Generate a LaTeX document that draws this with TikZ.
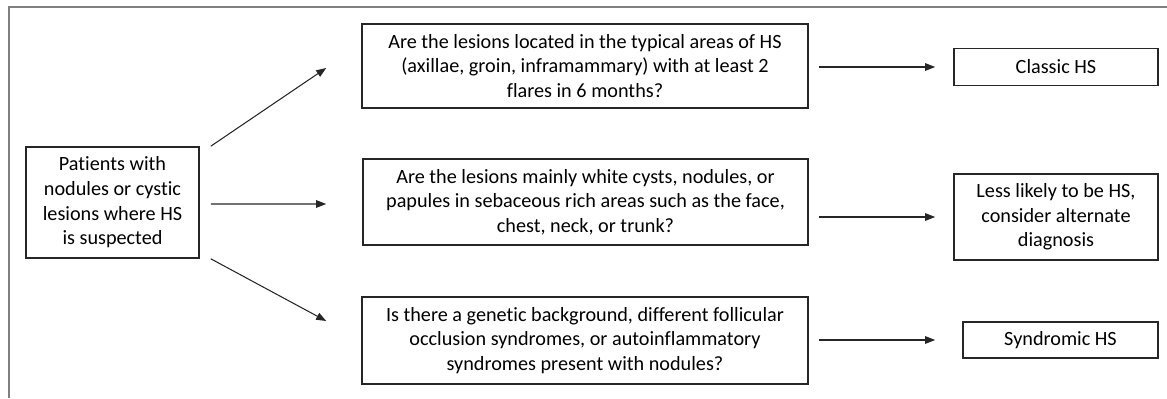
\documentclass[tikz,border=0pt]{standalone}
\usepackage{fontspec}
\setmainfont{Carlito}[Ligatures=NoCommon]
\usepackage{tikz}
\usetikzlibrary{calc, arrows.meta, positioning}

\begin{document}
\begin{tikzpicture}[font=\fontsize{11.5}{14}\selectfont,
    box/.style={draw=black!85, line width=0.9pt, align=center, inner sep=0pt},
    arr/.style={-{Triangle[length=2mm, width=1.5mm]}, line width=0.6pt, black!85}]
        \useasboundingbox (0,0) rectangle (23.34,7.96);
        % frame round the chart
        \draw[gray, line width=0.8pt] (0.18,0) -- (0.18,7.82) -- (23.34,7.82);

        \node[box, minimum width=3.46cm, minimum height=2.22cm] (start) at (2.25,3.91)
          {Patients with\\nodules or cystic\\lesions where HS\\is suspected};

        % the three questions
        \node[box, minimum width=8.92cm, minimum height=1.68cm] (q1) at (11.7,6.64)
          {Are the lesions located in the typical areas of HS\\(axillae, groin, inframammary) with at least 2\\flares in 6 months?};
        \node[box, minimum width=8.9cm, minimum height=1.72cm] (q2) at (11.71,3.92)
          {Are the lesions mainly white cysts, nodules, or\\papules in sebaceous rich areas such as the face,\\chest, neck, or trunk?};
        \node[box, minimum width=8.92cm, minimum height=1.74cm] (q3) at (11.7,1.15)
          {Is there a genetic background, different follicular\\occlusion syndromes, or autoinflammatory\\syndromes present with nodules?};

        % outcomes
        \node[box, minimum width=4.08cm, minimum height=0.74cm] (r1) at (21.12,6.62) {Classic HS};
        \node[box, minimum width=4.08cm, minimum height=1.72cm] (r2) at (21.12,3.62)
          {Less likely to be HS,\\consider alternate\\diagnosis};
        \node[box, minimum width=3.9cm, minimum height=0.72cm] (r3) at (21.21,1.16) {Syndromic HS};

        \draw[arr] ($(start.north east)+(0.22,0)$) -- ($(q1.west)+(-0.7,-0.04)$);
        \draw[arr] ($(start.east)+(0.22,-0.03)$) -- ($(q2.west)+(-0.72,-0.04)$);
        \draw[arr] ($(start.south east)+(0.22,0)$) -- ($(q3.west)+(-0.7,0.39)$);

        \draw[arr] ($(q1.east |- r1.west)+(0.2,0)$) -- ($(r1.west)+(-0.36,0)$);
        \draw[arr] ($(q2.east |- r2.west)+(0.2,0)$) -- ($(r2.west)+(-0.36,0)$);
        \draw[arr] ($(q3.east |- r3.west)+(0.2,0)$) -- ($(r3.west)+(-0.54,0)$);
      \end{tikzpicture}
\end{document}
